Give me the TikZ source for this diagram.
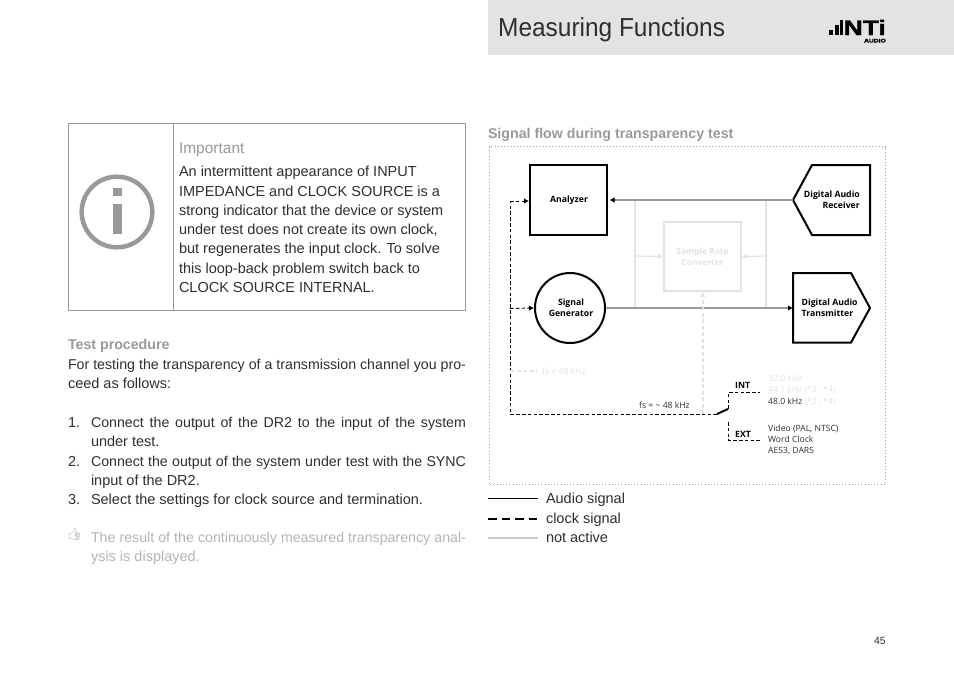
\documentclass[tikz,border=0pt]{standalone}
\usepackage{fontspec}
\usepackage{graphicx}
\usetikzlibrary{arrows.meta}
\setmainfont{Liberation Sans}
\newfontfamily\diag{Open Sans}
\newfontfamily\emo{Noto Emoji}
\newfontfamily\logofont[FakeBold=1.5]{Liberation Sans Bold}
\definecolor{hdr}{HTML}{E2E3E5}
\definecolor{txt}{HTML}{2E2E2E}
\definecolor{gr}{HTML}{999999}
\definecolor{lgr}{HTML}{E2E2E2}
\definecolor{tipc}{HTML}{B4B4B4}
\definecolor{dots}{HTML}{A0A0A0}
\tikzset{
 body/.style={anchor=base west,inner sep=0pt,outer sep=0pt,text=txt,font=\fontsize{14.5}{17}\selectfont},
 tight/.style={font=\fontsize{14.2}{17}\selectfont},
 head/.style={anchor=base west,inner sep=0pt,outer sep=0pt,text=gr,font=\bfseries\fontsize{14.2}{16}\selectfont},
 dl/.style={inner sep=0pt,text=black,font=\diag\bfseries\fontsize{8.7}{11}\selectfont,align=center},
 dt/.style={inner sep=0pt,anchor=base west,text=txt,font=\diag\fontsize{8.6}{10.7}\selectfont},
 block/.style={draw=black,line width=2pt},
 audio/.style={draw=gr,line width=1.7pt},
 off/.style={draw=lgr,line width=1.2pt},
 clock/.style={draw=black,line width=.95pt,dash pattern=on 3.6pt off 2.2pt},
 offclock/.style={draw=lgr,line width=1.1pt,dash pattern=on 4pt off 2.5pt},
 blacktip/.style={-{Latex[length=5pt,width=5.5pt,black]}},
 lighttip/.style={-{Latex[length=5pt,width=5.5pt,lgr]}},
}
\newcommand{\jline}[4]{\node[body,tight] (#1) at (#2) {\hbox to #3pt{#4}};}
\begin{document}
\begin{tikzpicture}[x=1pt,y=-1pt]
\useasboundingbox (0,0) rectangle (954,673);
% header
\fill[hdr] (488,0) rectangle (954,55);
\node[anchor=base west,inner sep=0pt,text=txt,font=\fontsize{26}{30}\selectfont] (title) at (498,36) {\scalebox{.94}[1]{Measuring Functions}};
% logo
\fill[black] (829,29.5) rectangle (833,35);
\fill[black] (834.5,25) rectangle (838.5,35);
\fill[black] (839.5,20) rectangle (842.5,35);
\node[anchor=base west,inner sep=0pt,font=\logofont\fontsize{21}{21}\selectfont] (nti) at (843.5,35) {\scalebox{1.26}[1]{NTi}};
\node[anchor=base east,inner sep=0pt,font=\logofont\fontsize{5.4}{6}\selectfont] (audio) at (886,42.5) {\scalebox{1.25}[1]{AUDIO}};
% important box
\draw[gr,line width=.9pt] (68.5,123.5) rectangle (465,310.5);
\draw[gr,line width=.9pt] (173.5,123.5) -- (173.5,310.5);
\draw[gr,line width=4.5pt] (117,212) circle (35.3);
\fill[gr] (113,188.3) rectangle (122.3,195.7);
\fill[gr] (113,204) rectangle (122.3,233.7);
\node[body,text=gr,font=\fontsize{15.5}{17}\selectfont] (imp) at (179,153) {Important};
\node[body] (l1) at (179,176) {An intermittent appearance of INPUT};
\node[body] (l2) at (179,196) {IMPEDANCE and CLOCK SOURCE is a};
\node[body] (l3) at (179,215) {strong indicator that the device or system};
\node[body] (l4) at (179,234) {under test does not create its own clock,};
\node[body] (l5) at (179,253) {but regenerates the input clock. To solve};
\node[body] (l6) at (179,273) {this loop-back problem switch back to};
\node[body] (l7) at (179,292) {CLOCK SOURCE INTERNAL.};
% left text
\node[head] (tp) at (68,349) {Test procedure};
\jline{p1}{68,369}{398}{For testing the transparency of a transmission channel you pro-}
\node[body] (p2) at (68,388) {ceed as follows:};
\node[body] (n1) at (68,427) {1.};
\jline{i1}{91,427}{375}{Connect the output of the DR2 to the input of the system}
\node[body] (i1b) at (91,446) {under test.};
\node[body] (n2) at (68,466) {2.};
\jline{i2}{91,466}{375}{Connect the output of the system under test with the SYNC}
\node[body] (i2b) at (91,485) {input of the DR2.};
\node[body] (n3) at (68,504) {3.};
\node[body] (i3) at (91,504) {Select the settings for clock source and termination.};
\node[inner sep=0pt,text=tipc,font=\emo\fontsize{12}{12}\selectfont] (hand) at (74.5,534) {\symbol{"1F44D}};
\jline{r1}{91,542}{375}{\color{tipc}The result of the continuously measured transparency anal-}
\node[body,text=tipc] (r2) at (91,561) {ysis is displayed.};
% diagram heading and frame
\node[head] (sf) at (488,138) {Signal flow during transparency test};
\draw[dots,line width=1pt,dash pattern=on 1pt off 2.2pt] (489,146.5) rectangle (885.5,484.5);
% inactive path
\node[draw=lgr,line width=1.8pt,minimum width=77pt,minimum height=69pt,inner sep=0pt,text=lgr,font=\diag\bfseries\fontsize{8.4}{10.7}\selectfont,align=center] (src) at (702.5,256.5) {Sample Rate\\Converter};
\coordinate (jal) at (635,200);
\coordinate (jar) at (766,200);
\coordinate (jbl) at (635,308);
\coordinate (jbr) at (766,308);
\draw[off] (jal) -- (jbl);
\draw[off] (jar) -- (jbr);
\draw[off,lighttip] (635,256) -- (src.west);
\draw[off,lighttip] (766,256) -- (src.east);
% blocks
\node[block,minimum width=77pt,minimum height=70pt,inner sep=0pt] (an) at (568.5,200) {};
\node[dl] (anl) at (569,200.5) {Analyzer};
\node[block,circle,minimum size=70pt,inner sep=0pt] (sg) at (570,308) {};
\node[dl] (sgl) at (571,307.5) {Signal\\Generator};
\coordinate (rx) at (793,200);
\draw[block,line join=miter] (rx) -- (812,165) -- (870,165) -- (870,235) -- (812,235) -- cycle;
\node[dl,anchor=east,align=right] (rxl) at (860,200) {Digital Audio\\Receiver};
\coordinate (tx) at (793,308);
\draw[block,line join=miter] (tx) -- (793,273) -- (851,273) -- (870,308) -- (851,342.5) -- (793,342.5) -- cycle;
\node[dl,anchor=west,align=left] (txl) at (801.5,308) {Digital Audio\\Transmitter};
% audio
\draw[audio,blacktip,shorten >=1.5pt] (rx) -- (an.east);
\draw[audio,blacktip] (sg.east) -- (tx);
% clock
\coordinate (ca) at (510,201);
\coordinate (cb) at (510,414);
\coordinate (cc) at (717,414);
\coordinate (cd) at (728,409);
\coordinate (ce) at (728,392.5);
\coordinate (cf) at (760,392.5);
\coordinate (cg) at (728,422);
\coordinate (ch) at (728,440);
\coordinate (ci) at (760,440);
\coordinate (cm) at (510,308.5);
\coordinate (cn) at (510,371);
\coordinate (co) at (537,371);
\coordinate (cp) at (703,414);
\draw[clock] (cc) -- (cb) -- (ca);
\draw[clock,blacktip] (ca) -- (an.west |- ca);
\draw[clock,blacktip] (cm) -- (sg.west);
\draw[black,line width=2pt] (cc) -- (cd);
\draw[clock] (cd) -- (ce) -- (cf);
\draw[clock] (cg) -- (ch) -- (ci);
\draw[offclock] (cn) -- (co);
\draw[offclock,lighttip] (cp) -- (src.south -| cp);
% labels
\node[dt,text=lgr] (f1) at (542,374.5) {fs = 48 kHz};
\node[dt] (f2) at (639,408.5) {fs = \string~ 48 kHz};
\node[dl,anchor=base west] (int) at (735,388) {INT};
\node[dl,anchor=base west] (ext) at (735,437.5) {EXT};
\node[dt,text=lgr] (k1) at (768,381.5) {32.0 kHz};
\node[dt,text=lgr] (k2) at (768,392.5) {44.1 kHz (*2 , *4)};
\node[dt] (k3) at (768,404) {48.0 kHz \textcolor{lgr}{(*2 , *4)}};
\node[dt] (v1) at (768,431) {Video (PAL, NTSC)};
\node[dt] (v2) at (768,442) {Word Clock};
\node[dt] (v3) at (768,453) {AES3, DARS};
% legend
\node[body] (la) at (546,503) {Audio signal};
\node[body] (lb) at (546,523) {clock signal};
\node[body] (lc) at (546,542) {not active};
\coordinate (a0) at (488,498.5);
\coordinate (b0) at (488,518.5);
\coordinate (c0) at (488,537.5);
\draw[black,line width=.95pt] (a0) -- (538,498.5);
\draw[black,line width=2pt,dash pattern=on 8.5pt off 5pt] (b0) -- (538,518.5);
\draw[lgr!90!black,line width=2pt] (c0) -- (538,537.5);
\node[anchor=base east,inner sep=0pt,text=txt,font=\fontsize{10.5}{12}\selectfont] (pg) at (886,644) {45};
\end{tikzpicture}
\end{document}
